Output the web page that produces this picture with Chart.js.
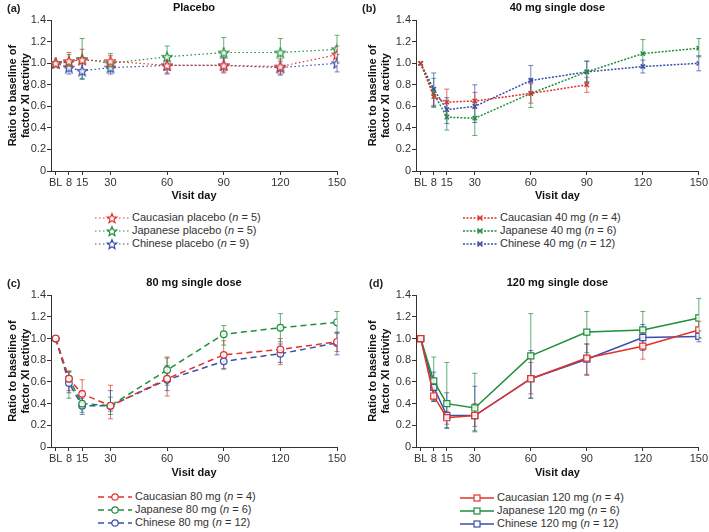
<!DOCTYPE html>
<html>
<head>
<meta charset="utf-8">
<script src="https://cdn.jsdelivr.net/npm/chart.js@4.4.1/dist/chart.umd.min.js"></script>
<style>
body { margin: 0; background: #fff; }
#wrap { position: relative; width: 709px; height: 532px; font-family: 'Liberation Sans', Arial, sans-serif; color: #222; }
#wrap canvas { position: absolute; }
.tag { position: absolute; font-weight: bold; font-size: 11px; line-height: 13px; }
.legend { position: absolute; font-size: 11px; color: #333; }
.legend div { height: 13px; line-height: 13px; display: flex; align-items: center; white-space: nowrap; }
.legend svg { margin-right: 3px; }
</style>
</head>
<body>
<div id="wrap">
  <canvas id="cA" width="354" height="203" style="left:0;top:0"></canvas>
  <canvas id="cB" width="349" height="203" style="left:360px;top:0"></canvas>
  <canvas id="cC" width="354" height="205" style="left:0;top:275px"></canvas>
  <canvas id="cD" width="349" height="205" style="left:360px;top:275px"></canvas>
  <div class="tag" style="left:7px;top:2px">(a)</div>
  <div class="tag" style="left:362px;top:2px">(b)</div>
  <div class="tag" style="left:7px;top:277px">(c)</div>
  <div class="tag" style="left:369px;top:277px">(d)</div>
  <div class="legend" id="lA" style="left:95px;top:211px"></div>
  <div class="legend" id="lB" style="left:463px;top:211px"></div>
  <div class="legend" id="lC" style="left:98px;top:490px"></div>
  <div class="legend" id="lD" style="left:460px;top:491px"></div>
</div>
<script>
const days = [1, 8, 15, 30, 60, 90, 120, 150]
const xTicks = [1, 8, 15, 30, 60, 90, 120, 150]
const groups = ['Caucasian', 'Japanese', 'Chinese']
const colors = ['#e0322e', '#1e8f3b', '#3b4ea8']

// rows: Caucasian, Japanese, Chinese
const placeboMean = [
  [1.00, 1.02, 1.03, 1.02, 0.98, 0.98, 0.97, 1.08],
  [1.00, 1.01, 1.04, 1.00, 1.06, 1.10, 1.10, 1.13],
  [1.00, 0.96, 0.93, 0.96, 0.98, 0.98, 0.96, 1.00]
]
const placeboLow = [
  [1.00, 0.95, 0.93, 0.97, 0.91, 0.91, 0.90, 1.00],
  [1.00, 0.95, 0.85, 0.92, 0.95, 0.97, 0.97, 1.01],
  [1.00, 0.90, 0.86, 0.90, 0.90, 0.92, 0.89, 0.92]
]
const placeboHigh = [
  [1.00, 1.10, 1.13, 1.07, 1.05, 1.05, 1.04, 1.16],
  [1.00, 1.08, 1.23, 1.09, 1.16, 1.24, 1.23, 1.26],
  [1.00, 1.03, 1.00, 1.02, 1.05, 1.05, 1.02, 1.08]
]

const mg40Mean = [
  [1.00, 0.69, 0.64, 0.65, 0.72, 0.80, null, null],
  [1.00, 0.72, 0.50, 0.49, 0.72, 0.92, 1.09, 1.14],
  [1.00, 0.76, 0.57, 0.60, 0.84, 0.92, 0.97, 1.00]
]
const mg40Low = [
  [1.00, 0.61, 0.52, 0.58, 0.63, 0.73, null, null],
  [1.00, 0.59, 0.38, 0.33, 0.59, 0.83, 0.96, 1.06],
  [1.00, 0.60, 0.44, 0.45, 0.72, 0.82, 0.91, 0.93]
]
const mg40High = [
  [1.00, 0.76, 0.76, 0.73, 0.81, 0.87, null, null],
  [1.00, 0.86, 0.63, 0.64, 0.86, 1.02, 1.22, 1.23],
  [1.00, 0.91, 0.68, 0.80, 0.98, 1.02, 1.03, 1.07]
]

const mg80Mean = [
  [1.00, 0.63, 0.49, 0.38, 0.63, 0.85, 0.90, 0.97],
  [1.00, 0.63, 0.40, 0.38, 0.71, 1.04, 1.10, 1.15],
  [1.00, 0.59, 0.38, 0.38, 0.62, 0.79, 0.86, 0.96]
]
const mg80Low = [
  [1.00, 0.52, 0.37, 0.26, 0.47, 0.72, 0.76, 0.88],
  [1.00, 0.45, 0.32, 0.30, 0.57, 0.94, 0.97, 1.05],
  [1.00, 0.50, 0.30, 0.33, 0.52, 0.72, 0.78, 0.85]
]
const mg80High = [
  [1.00, 0.70, 0.62, 0.57, 0.83, 0.98, 1.00, 1.05],
  [1.00, 0.70, 0.52, 0.46, 0.82, 1.12, 1.23, 1.25],
  [1.00, 0.69, 0.45, 0.52, 0.75, 0.87, 0.95, 1.06]
]

const mg120Mean = [
  [1.00, 0.47, 0.27, 0.29, 0.63, 0.82, 0.93, 1.08],
  [1.00, 0.61, 0.40, 0.36, 0.84, 1.06, 1.08, 1.19],
  [1.00, 0.55, 0.29, 0.29, 0.63, 0.81, 1.01, 1.02]
]
const mg120Low = [
  [1.00, 0.42, 0.21, 0.19, 0.49, 0.66, 0.81, 1.00],
  [1.00, 0.43, 0.18, 0.15, 0.45, 0.87, 0.91, 1.01],
  [1.00, 0.42, 0.17, 0.14, 0.45, 0.67, 0.89, 0.97]
]
const mg120High = [
  [1.00, 0.53, 0.33, 0.40, 0.78, 0.95, 1.05, 1.16],
  [1.00, 0.83, 0.78, 0.68, 1.23, 1.25, 1.25, 1.37],
  [1.00, 0.69, 0.50, 0.56, 0.89, 0.95, 1.13, 1.07]
]

const nPlacebo = [5, 5, 9]
const nDose = [4, 6, 12]

Chart.defaults.font.family = "'Liberation Sans', Arial, sans-serif"
Chart.defaults.font.size = 11
Chart.defaults.color = '#222'

// hollow five-point star used as marker in panel (a)
const starPath = (r1, r2, cx, cy) => {
  const pts = []
  for (let i = 0; i < 10; i++) {
    const r = i % 2 ? r2 : r1
    const a = -Math.PI / 2 + i * Math.PI / 5
    pts.push([cx + r * Math.cos(a), cy + r * Math.sin(a)])
  }
  return pts
}
const makeStar = (color) => {
  const c = document.createElement('canvas')
  c.width = 12; c.height = 12
  const ctx = c.getContext('2d')
  ctx.beginPath()
  starPath(5.2, 2.3, 6, 6.5).forEach(([x, y], i) => i ? ctx.lineTo(x, y) : ctx.moveTo(x, y))
  ctx.closePath()
  ctx.fillStyle = 'rgba(255,255,255,0.85)'
  ctx.fill()
  ctx.strokeStyle = color
  ctx.lineWidth = 1.2
  ctx.stroke()
  return c
}

const errorBars = {
  id: 'errorBars',
  beforeDatasetsDraw(chart) {
    const { ctx, scales: { x, y } } = chart
    chart.data.datasets.forEach((ds) => {
      ctx.save()
      ctx.strokeStyle = ds.borderColor
      ctx.globalAlpha = 0.7
      ctx.lineWidth = 1
      ds.low.forEach((lo, i) => {
        const hi = ds.high[i]
        if (lo == null || hi == null || lo === hi) return
        const px = x.getPixelForValue(days[i])
        const y1 = y.getPixelForValue(lo)
        const y2 = y.getPixelForValue(hi)
        ctx.beginPath()
        ctx.moveTo(px, y1); ctx.lineTo(px, y2)
        ctx.moveTo(px - 2.5, y1); ctx.lineTo(px + 2.5, y1)
        ctx.moveTo(px - 2.5, y2); ctx.lineTo(px + 2.5, y2)
        ctx.stroke()
      })
      ctx.restore()
    })
  }
}

const makePanel = (id, title, mean, low, high, style, yWidth, padRight, xHeight) => {
  const datasets = mean.map((row, g) => ({
    label: groups[g],
    data: row.map((v, i) => ({ x: days[i], y: v })).filter(p => p.y != null),
    low: low[g],
    high: high[g],
    borderColor: colors[g],
    backgroundColor: '#fff',
    borderWidth: style.width,
    borderDash: style.dash,
    pointStyle: style.point === 'star' ? makeStar(colors[g]) : style.point,
    pointRadius: style.radius,
    pointBorderWidth: style.pointWidth,
    pointBorderColor: colors[g],
    pointBackgroundColor: 'rgba(255,255,255,0.85)',
    tension: 0
  }))

  new Chart(document.getElementById(id), {
    type: 'line',
    data: { datasets },
    plugins: [errorBars],
    options: {
      responsive: false,
      animation: false,
      devicePixelRatio: 1,
      layout: { padding: { left: 0, right: padRight, top: 0, bottom: 0 } },
      plugins: {
        legend: { display: false },
        tooltip: { enabled: false },
        title: {
          display: true,
          text: title,
          fullSize: false,
          font: { size: 11, weight: 'bold' },
          color: '#111',
          padding: { top: 1, bottom: 6 }
        }
      },
      scales: {
        x: {
          type: 'linear',
          min: -1.5,
          max: 150,
          afterBuildTicks: (s) => { s.ticks = xTicks.map(v => ({ value: v })) },
          afterFit: (s) => { s.height = xHeight },
          ticks: {
            autoSkip: false,
            maxRotation: 0,
            padding: 1,
            color: '#333',
            callback: (v) => v === 1 ? 'BL' : v
          },
          grid: { drawOnChartArea: false, drawTicks: true, tickLength: 4, color: '#333' },
          border: { display: true, color: '#333', width: 1 },
          title: {
            display: true,
            text: 'Visit day',
            font: { size: 11, weight: 'bold' },
            color: '#111',
            padding: { top: 1, bottom: 0 }
          }
        },
        y: {
          min: 0,
          max: 1.4,
          afterFit: (s) => { s.width = yWidth },
          ticks: {
            stepSize: 0.2,
            padding: 1,
            color: '#333',
            callback: (v) => v === 0 ? '0' : v.toFixed(1)
          },
          grid: { drawOnChartArea: false, drawTicks: true, tickLength: 4, color: '#333' },
          border: { display: true, color: '#333', width: 1 },
          title: {
            display: true,
            text: ['Ratio to baseline of', 'factor XI activity'],
            font: { size: 11, weight: 'bold' },
            color: '#111',
            padding: { top: 6, bottom: 0 }
          }
        }
      }
    }
  })
}

// small svg icon (line + marker) for the html legends
const legendIcon = (color, style) => {
  const dash = style.dash.length ? `stroke-dasharray="${style.dash.join(' ')}"` : ''
  let marker = ''
  if (style.point === 'star') {
    const pts = starPath(5, 2.2, 17, 6.6).map(p => p.map(n => n.toFixed(2)).join(',')).join(' ')
    marker = `<polygon points="${pts}" fill="#fff" stroke="${color}" stroke-width="1.2"/>`
  } else if (style.point === 'crossRot') {
    marker = `<path d="M14.5 3.5L19.5 8.5M19.5 3.5L14.5 8.5" stroke="${color}" stroke-width="1.5"/>`
  } else if (style.point === 'circle') {
    marker = `<circle cx="17" cy="6" r="3.2" fill="#fff" stroke="${color}" stroke-width="1.2"/>`
  } else {
    marker = `<rect x="14" y="3" width="6" height="6" fill="#fff" stroke="${color}" stroke-width="1.2"/>`
  }
  return `<svg width="34" height="12"><line x1="0" y1="6" x2="34" y2="6" stroke="${color}" stroke-width="${style.width}" ${dash}/>${marker}</svg>`
}

const makeLegend = (id, suffix, ns, style) => {
  document.getElementById(id).innerHTML = groups.map((g, i) =>
    `<div>${legendIcon(colors[i], style)}<span>${g} ${suffix} (<i>n</i> = ${ns[i]})</span></div>`
  ).join('')
}

const styleA = { point: 'star', radius: 5, pointWidth: 1.2, width: 1.2, dash: [1.5, 2.5] }
const styleB = { point: 'crossRot', radius: 3, pointWidth: 1.5, width: 1.5, dash: [2, 1.5] }
const styleC = { point: 'circle', radius: 3.3, pointWidth: 1.2, width: 1.5, dash: [6, 4] }
const styleD = { point: 'rect', radius: 4.3, pointWidth: 1.2, width: 1.5, dash: [] }

makePanel('cA', 'Placebo', placeboMean, placeboLow, placeboHigh, styleA, 51, 17, 32)
makePanel('cB', '40 mg single dose', mg40Mean, mg40Low, mg40High, styleB, 56, 10, 32)
makePanel('cC', '80 mg single dose', mg80Mean, mg80Low, mg80High, styleC, 51, 17, 33)
makePanel('cD', '120 mg single dose', mg120Mean, mg120Low, mg120High, styleD, 56, 10, 33)

makeLegend('lA', 'placebo', nPlacebo, styleA)
makeLegend('lB', '40 mg', nDose, styleB)
makeLegend('lC', '80 mg', nDose, styleC)
makeLegend('lD', '120 mg', nDose, styleD)
</script>
</body>
</html>
